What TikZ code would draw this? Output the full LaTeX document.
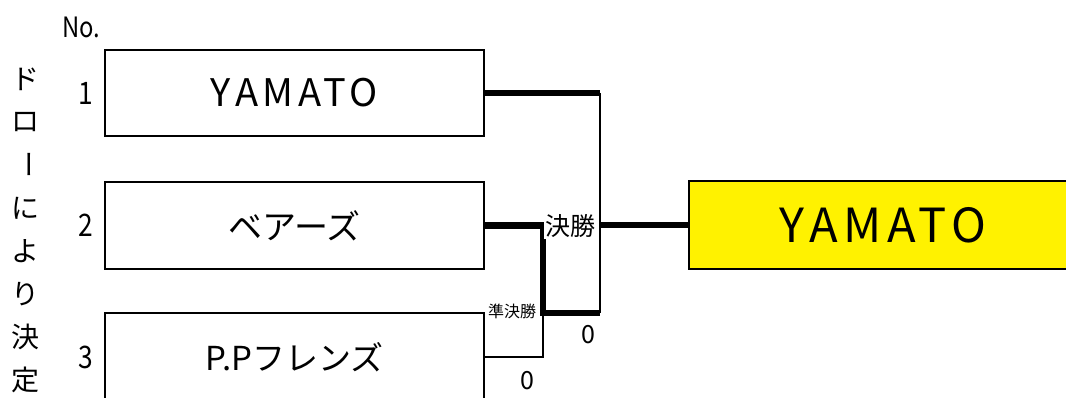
\documentclass[tikz,border=0pt]{standalone}
\usepackage{fontspec}
\setmainfont{Noto Sans CJK JP}
\newfontfamily\widelatin{Noto Sans CJK JP}[LetterSpace=12]
\usetikzlibrary{positioning}

\tikzset{
  team/.style={draw, line width=2.5pt, minimum width=379pt, inner sep=0pt, font=\fontsize{34}{40}\selectfont},
  thinline/.style={line width=2.5pt},
  thickline/.style={line width=6.5pt},
  score/.style={font=\fontsize{25}{25}\selectfont},
  narrow/.style={xscale=0.85, transform shape},
  drawchar/.style={font=\fontsize{28}{28}\selectfont, inner sep=0pt},
}

\begin{document}
\begin{tikzpicture}[x=1pt, y=-1pt]
        \useasboundingbox (0,0) rectangle (1066,398);
        \clip (0,0) rectangle (1066,398);

        % Team boxes
        \node[team, minimum height=86pt, font=\widelatin\fontsize{38}{40}\selectfont] (team1) at (294.5,93) {YAMATO};
        \node[team, minimum height=87pt] (team2) at (294.5,225.5) {ベアーズ};
        \node[team, minimum height=88pt, font=\fontsize{33}{40}\selectfont] (team3) at (294.5,357) {P.Pフレンズ};

        % Winner box
        \node[team, fill=yellow, minimum width=388pt, minimum height=88pt, font=\widelatin\fontsize{47}{50}\selectfont] (winner) at (883,225) {YAMATO};

        % Bracket junctions
        \coordinate (semi) at (543,313);
        \coordinate (ftop) at (600,93);
        \coordinate (fbot) at (600,313);
        \coordinate (fmid) at (600,225);

        % Semi final 2 - 3
        \draw[thinline] (team3.east) -| (semi);
        \draw[thickline] (team2.east) -| (semi) -- (fbot);

        % Final 1 - winner of semi
        \draw[thinline] (ftop) -- (fbot);
        \draw[thickline] (team1.east) -- (ftop);
        \draw[thickline] (fmid) -- (winner.west);

        % Round labels and scores
        \node[fill=white, inner sep=1pt, font=\fontsize{25}{25}\selectfont] (final) at (570,226) {決勝};
        \node[fill=white, inner sep=0.5pt, font=\fontsize{16}{16}\selectfont] (semilabel) at (512,311) {準決勝};
        \node[score] (score1) at (588,335) {0};
        \node[score] (score2) at (527,381) {0};

        % Draw numbers
        \node[narrow, font=\fontsize{28}{28}\selectfont] (no) at (81,27) {No.};
        \foreach \n in {1,2,3}
          \node[narrow, font=\fontsize{31}{31}\selectfont] (num\n) at (team\n.west -| 86,0) {\n};

        % Drawing note, written top to bottom
        \foreach \ch/\rot [count=\i from 0] in {ド/0,ロ/0,ー/-90,に/0,よ/0,り/0,決/0,定/0}
          \node[drawchar, rotate=\rot] (note\i) at (25,79+43*\i) {\ch};
    \end{tikzpicture}
\end{document}
